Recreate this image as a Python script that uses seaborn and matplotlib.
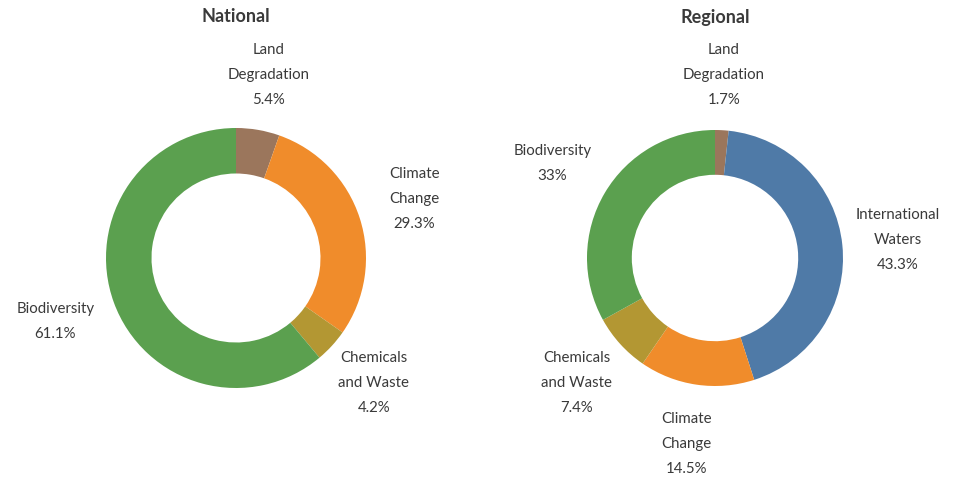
import matplotlib
matplotlib.use("Agg")
import matplotlib.pyplot as plt
import seaborn as sns

sns.set_theme(style="white")
plt.rcParams['font.family'] = ['Lato', 'DejaVu Sans']

# ---- data ----
national_categories = ["Land\nDegradation", "Climate\nChange", "Chemicals\nand Waste", "Biodiversity"]
national_values = [5.4, 29.3, 4.2, 61.1]
national_labels = ["5.4%", "29.3%", "4.2%", "61.1%"]

regional_categories = ["Land\nDegradation", "International\nWaters", "Climate\nChange", "Chemicals\nand Waste", "Biodiversity"]
regional_values = [1.7, 43.3, 14.5, 7.4, 33.0]
regional_labels = ["1.7%", "43.3%", "14.5%", "7.4%", "33%"]

# ---- styles ----
colors = {
    "Land\nDegradation": "#9B765C",
    "Climate\nChange": "#F08C2B",
    "Chemicals\nand Waste": "#B39733",
    "Biodiversity": "#5BA04F",
    "International\nWaters": "#4F7AA7",
}
text_color = "#3A3A3A"

W, H = 967, 479
fig = plt.figure(figsize=(W / 100, H / 100), dpi=100)

def donut(cx, cy, r, cats, vals, labs, title, label_pos):
    ax = fig.add_axes([(cx - r) / W, (H - cy - r) / H, 2 * r / W, 2 * r / H])
    ax.pie(vals, colors=[colors[c] for c in cats], startangle=90, counterclock=False,
           wedgeprops=dict(width=0.35, linewidth=0))
    ax.set_xlim(-1, 1)
    ax.set_ylim(-1, 1)
    ax.set_aspect("equal")
    ax.axis("off")
    for c, l, (x, y) in zip(cats, labs, label_pos):
        ax.text(x, y, f"{c}\n{l}", ha="center", va="center", fontsize=10.8,
                color=text_color, linespacing=2.0, clip_on=False)
    fig.text(cx / W, 1 - 17 / H, title, ha="center", va="center", fontsize=13,
             fontweight="bold", color=text_color)

donut(236, 258, 130, national_categories, national_values, national_labels, "National",
      [(0.25, 1.41), (1.37, 0.45), (1.06, -0.96), (-1.39, -0.49)])
donut(715, 258, 128, regional_categories, regional_values, regional_labels, "Regional",
      [(0.07, 1.43), (1.43, 0.14), (-0.22, -1.45), (-1.08, -0.98), (-1.27, 0.74)])

fig.savefig("out.png", dpi=100)
